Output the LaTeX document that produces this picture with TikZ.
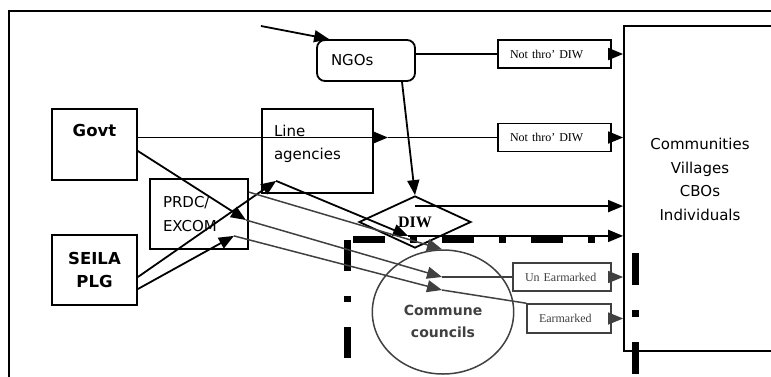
\documentclass[tikz,border=0pt]{standalone}
\usepackage{fontspec}
\setmainfont{Liberation Serif}
\newfontfamily\comicfont{DejaVu Sans}
\usepackage{xcolor}
\usepackage{tikz}
\usetikzlibrary{arrows.meta, shapes.geometric, calc}
\definecolor{cgrey}{gray}{0.25}
\tikzstyle{plainbox} = [rectangle, draw=black, line width=1.8pt, inner sep=0pt]
\tikzstyle{bigtext} = [font=\comicfont\fontsize{15}{23.5}\selectfont]
\tikzstyle{boldtext} = [font=\comicfont\bfseries\fontsize{16.5}{23}\selectfont]
\tikzstyle{notebox} = [rectangle, draw=black, line width=1.8pt, minimum height=28pt, inner ysep=0pt, inner xsep=12pt, text width=89pt, align=left, font=\fontsize{12}{14}\selectfont]
\tikzstyle{greybox} = [notebox, draw=cgrey, text=cgrey, line width=1.6pt]
\tikzstyle{link} = [line width=1.8pt]
\tikzstyle{greylink} = [line width=1.5pt, draw=cgrey]
\tikzstyle{arrow} = [line width=1.8pt, -{Triangle[length=15pt, width=12pt]}]
\tikzstyle{greyarrow} = [greylink, -{Triangle[length=15pt, width=12pt]}]
\tikzstyle{fence} = [line width=7pt, dash pattern=on 32pt off 25pt on 7pt off 25pt]

\begin{document}
\begin{tikzpicture}[x=1pt, y=-1pt]
      \useasboundingbox (0,0) rectangle (771,376);

      % Outer frame
      \draw[line width=1.5pt] (9,400) -- (9,11) -- (800,11);

      % Commune boundary (thick dash-dot)
      \draw[fence] (353,239) -- (600,239);
      \draw[fence, dash pattern=on 31pt off 25pt on 6pt off 25pt] (347,240) -- (347,358);
      \draw[fence] (635,253) -- (635,380);

      % Boxes
      \node[plainbox, minimum width=152pt, minimum height=325pt, bigtext] (comm) at (700,188.5) {\parbox[c][100pt][t]{140pt}{\centering Communities\\Villages\\CBOs\\Individuals}};
      \node[plainbox, rounded corners=8pt, minimum height=41pt, text width=70pt, inner xsep=14pt, align=left, bigtext] (ngo) at (366,60.5) {NGOs};
      \node[plainbox, minimum width=85pt, minimum height=71pt, boldtext] (govt) at (94.5,144.5) {\parbox[c][40pt][t]{85pt}{\centering Govt}};
      \node[plainbox, minimum width=111pt, minimum height=84pt, bigtext] (agency) at (317.5,151) {\parbox[c][52pt][t]{87pt}{Line\\agencies}};
      \node[plainbox, minimum height=70pt, text width=72pt, inner xsep=13pt, align=left, bigtext] (prdc) at (199,214) {PRDC/\\EXCOM};
      \node[plainbox, minimum width=85pt, minimum height=70pt, align=center, boldtext] (seila) at (94.5,270) {SEILA\\PLG};
      \node[diamond, draw=black, line width=1.8pt, minimum width=112pt, minimum height=52pt, inner sep=0pt, font=\bfseries\fontsize{16}{18}\selectfont] (diw) at (415,222) {DIW};
      \node[ellipse, draw=cgrey, line width=1.5pt, minimum width=140pt, minimum height=124pt, inner sep=0pt, text=cgrey, font=\comicfont\bfseries\fontsize{14}{22}\selectfont] (commune) at (443,312) {\parbox[c][51pt][b]{100pt}{\centering Commune\\councils}};

      % Funding channels
      \node[notebox] (nt1) at (554.5,54) {Not thro' DIW};
      \node[notebox] (nt2) at (554.5,137.5) {Not thro' DIW};
      \node[greybox, text width=74pt] (unear) at (562,277) {Un Earmarked};
      \node[greybox, text width=60pt, minimum height=29pt] (ear) at (569,318.5) {Earmarked};

      % Arrow ends
      \coordinate (src) at (261,26);
      \coordinate (gtip) at ($(agency.east |- nt2.west)+(14,0)$);
      \coordinate (ptipa) at ($(prdc.east)+(-3,6)$);
      \coordinate (ptipb) at ($(prdc.south east)+(-15,-14)$);
      \coordinate (atip) at ($(agency.south west)+(15,-13)$);
      \coordinate (dtop) at ($(diw.north)+(0,11)$);
      \coordinate (dtip) at ($(diw.south)+(-7,-13)$);
      \coordinate (ctipa) at ($(commune.north)+(-1,0)$);
      \coordinate (ctipb) at ($(commune.center)+(-1,-35)$);
      \coordinate (ctipc) at ($(commune.center)+(-1,-22)$);

      % NGOs
      \draw[arrow] (src) -- ($(ngo.north west)+(13,0)$);
      \draw[link] (ngo.east |- nt1.west) -- (nt1.west);
      \draw[arrow] (nt1.east) -- (nt1.east -| comm.west);
      \draw[arrow] ($(ngo.south)+(36,0)$) -- (diw.north);

      % Govt
      \draw[arrow] (govt.east |- nt2.west) -- (gtip);
      \draw[link] (gtip) -- (nt2.west);
      \draw[arrow] (nt2.east) -- (nt2.east -| comm.west);
      \draw[arrow] ($(govt.east)+(0,6.5)$) -- (ptipa);

      % SEILA
      \draw[arrow] ($(seila.east)+(0,7)$) -- (atip);
      \draw[arrow] ($(seila.east)+(0,19)$) -- (ptipb);

      % DIW
      \draw[arrow] (atip) -- (dtip);
      \draw[arrow] (dtop) -- (dtop -| comm.west);
      \draw[arrow] (dtip) -- (dtip -| comm.west);

      % Commune councils
      \draw[greyarrow] ($(prdc.north east)+(0,14)$) -- (ctipa);
      \draw[greyarrow] (ptipa) -- (ctipb);
      \draw[greyarrow] (ptipb) -- (ctipc);
      \draw[greylink] (ctipb) -- (unear.west);
      \draw[greylink] (ctipc) -- (ear.north west);
      \draw[greyarrow] (unear.east) -- (unear.east -| comm.west);
      \draw[greyarrow] (ear.east) -- (ear.east -| comm.west);
\end{tikzpicture}
\end{document}
